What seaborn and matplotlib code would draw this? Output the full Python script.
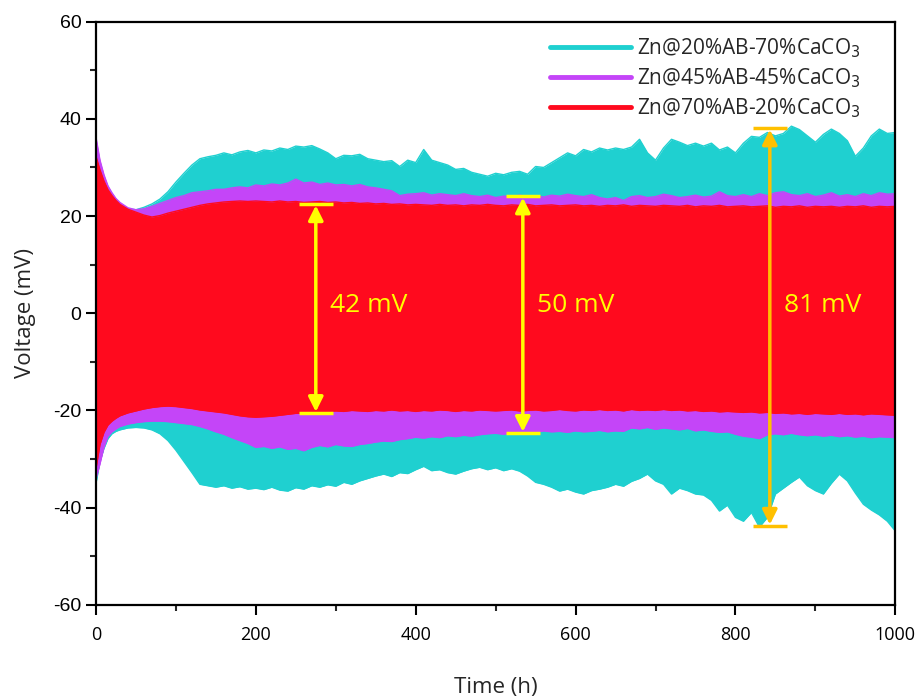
import numpy as np
import pandas as pd
import matplotlib
matplotlib.use("Agg")
import matplotlib.pyplot as plt
from matplotlib.lines import Line2D
import seaborn as sns

# ---------------- data (envelopes) ----------------
time_h = [0, 5, 10, 15, 20, 25, 30, 40, 50, 60, 70, 80, 90, 100,
          110, 120, 130, 140, 150, 160, 170, 180, 190, 200,
          210, 220, 230, 240, 250, 260, 270, 280, 290, 300,
          310, 320, 330, 340, 350, 360, 370, 380, 390, 400,
          410, 420, 430, 440, 450, 460, 470, 480, 490, 500,
          510, 520, 530, 540, 550, 560, 570, 580, 590, 600,
          610, 620, 630, 640, 650, 660, 670, 680, 690, 700,
          710, 720, 730, 740, 750, 760, 770, 780, 790, 800,
          810, 820, 830, 840, 850, 860, 870, 880, 890, 900,
          910, 920, 930, 940, 950, 960, 970, 980, 990, 1000]

cyan_upper = [35.5, 31, 28, 26, 24.5, 23.5, 22.5, 21.5, 21.3, 21.8, 22.5, 23.5, 25, 27,
              28.8, 30.5, 31.8, 32.2, 32.5, 33, 32.6, 33.2, 33.5, 33,
              33.6, 33.4, 34, 33.7, 34.4, 34.2, 34.5, 33.8, 33, 31.8,
              32.5, 32.4, 32.7, 31.8, 31.5, 31.2, 31.4, 30.2, 31.5, 31,
              33.7, 31.5, 31, 30.5, 29.6, 29.8, 29, 28.6, 28.2, 28.8,
              28.5, 29, 29.2, 28.6, 30.2, 30, 31, 32, 33, 32.4,
              33.7, 33.2, 34, 33.6, 34, 33.7, 34.2, 35.8, 33, 31.5,
              34, 35.8, 35.2, 34.5, 35, 34.4, 35, 33.6, 34.2, 33,
              35, 36.4, 36.2, 37.2, 36.5, 37, 38.5, 37.8, 36.5, 35.2,
              36.8, 37.9, 37, 35.5, 32.3, 34, 36.5, 37.9, 37, 37.2]
cyan_lower = [-35, -30.5, -27.8, -25.8, -24.8, -24.3, -24, -23.6, -23.5, -23.6, -24, -24.8, -26.2, -28.2,
              -30.5, -32.8, -35.2, -35.5, -35.8, -35.5, -36, -35.7, -36.2, -36,
              -36.3, -35.8, -36.4, -36.6, -35.9, -36.2, -35.5, -35.8, -35.3, -35.6,
              -34.8, -35.2, -34.5, -34, -33.5, -33.1, -33.6, -32.8, -33, -32.2,
              -31.5, -32.4, -32.2, -32.8, -33.1, -32.5, -32, -31.7, -32.2, -31.8,
              -32.4, -32, -32.5, -33.5, -34.8, -35.2, -35.8, -36.6, -36.2, -36.8,
              -37.2, -36.5, -36.2, -35.8, -35.2, -35.6, -34.6, -34, -33.1, -34.5,
              -35.2, -37.2, -36, -36.5, -37.2, -37.4, -38.5, -40.7, -39.5, -42,
              -42.8, -41, -44, -42, -37.2, -36, -34.8, -33.7, -35.5, -36.5,
              -37.2, -35, -33.1, -34.5, -37, -39.3, -40.5, -41.5, -42.8, -44.8]

magenta_upper = [36.2, 31.5, 28.5, 26.2, 24.8, 23.6, 22.8, 21.7, 21.3, 21.5, 22, 22.6, 23.2, 23.8,
                 24.2, 24.8, 25, 25.2, 25.5, 25.5, 25.8, 26, 25.8, 26.4,
                 26.2, 26.6, 26.4, 26.8, 27.6, 26.8, 27, 26.5, 26.8, 26.4,
                 26.5, 26.2, 26.5, 26, 25.8, 25.5, 25.2, 24.2, 24.5, 24.6,
                 24.8, 24.3, 24.6, 24.4, 24.2, 24.6, 24.2, 24, 24.3, 23.8,
                 24.1, 24, 24.3, 24, 24.2, 23.9, 24.3, 24.1, 24.5, 24.2,
                 24, 24.4, 23.8, 23.5, 23.8, 23.2, 24, 24.2, 23.8, 24,
                 24.5, 24.2, 23.8, 24, 24.3, 23.9, 24.1, 25, 24.2, 24,
                 24.4, 24, 24.6, 24.2, 24.8, 25, 24.4, 24.2, 24.6, 24,
                 24.3, 24.8, 24.1, 24.4, 24, 24.6, 24.2, 24.8, 24.5, 24.6]
magenta_lower = [-34, -31, -27.5, -25.3, -24.4, -23.8, -23.3, -22.8, -22.5, -22.3, -22.2, -22.2, -22.3, -22.5,
                 -22.7, -22.9, -23.3, -23.8, -24.4, -24.9, -25.6, -26.2, -26.8, -27.6,
                 -27.4, -27.8, -27.5, -28, -27.8, -28.3, -27.6, -27.2, -27.5, -27,
                 -27.3, -27.4, -27, -26.8, -26.5, -26.3, -26.4, -26, -25.8, -25.5,
                 -25.7, -25.4, -25.6, -25.2, -25.4, -25.1, -25.3, -25, -24.8, -24.7,
                 -24.9, -24.5, -24.6, -24.3, -24.5, -24.2, -24.4, -24.3, -24.5, -24.2,
                 -24.4, -24.3, -24.1, -24.4, -24.2, -24.3, -23.6, -23.8, -23.5, -23.9,
                 -23.6, -23.8, -24, -23.7, -24.2, -24, -24.3, -24.5, -24.4, -24.9,
                 -25.3, -25.5, -25.8, -25, -24.8, -25, -24.7, -25, -25.2, -25,
                 -25.3, -25.1, -25.4, -25.2, -25.5, -25.3, -25.6, -25.4, -25.5, -25.6]

red_upper = [32.3, 29.5, 27.2, 25.4, 24.2, 23.2, 22.4, 21.4, 20.8, 20.2, 19.8, 20.1, 20.6, 21,
             21.4, 21.8, 22.2, 22.5, 22.7, 22.9, 23, 23.1, 23, 23.1,
             23, 22.9, 23.1, 22.9, 23, 22.8, 22.9, 23, 22.8, 22.9,
             22.7, 22.8, 22.6, 22.7, 22.5, 22.6, 22.4, 22.5, 22.3, 22.4,
             22.3, 22.2, 22.4, 22.2, 22.3, 22.1, 22.3, 22.2, 22.4, 22.2,
             22.1, 22.3, 22.2, 22.4, 22.1, 22.2, 22.3, 22.1, 22.2, 22.3,
             22.1, 22.2, 22, 22.2, 22.1, 22.3, 22, 22.2, 22.1, 22,
             22.2, 22.1, 22, 22.2, 21.9, 22.1, 22, 22.2, 21.9, 22,
             22.1, 21.9, 22, 22.1, 21.8, 22, 21.9, 22.1, 21.8, 22,
             21.9, 22, 21.8, 22, 21.9, 22.1, 21.8, 22, 21.9, 22]
red_lower = [-32, -27, -24.5, -23, -22.2, -21.6, -21.1, -20.5, -20.1, -19.7, -19.4, -19.2, -19.1, -19.2,
             -19.4, -19.6, -19.9, -20.1, -20.3, -20.5, -20.8, -21.1, -21.3, -21.4,
             -21.3, -21.2, -21, -20.8, -20.6, -20.5, -20.4, -20.3, -20.2, -20.1,
             -20.2, -20, -20.1, -20.2, -20, -20.1, -19.9, -20.1, -20, -20.2,
             -20, -20.1, -19.9, -20, -20.2, -20, -20.1, -19.9, -20, -20.1,
             -20, -19.9, -20.1, -20, -19.9, -20.1, -20, -19.8, -20, -20.1,
             -19.9, -20, -19.8, -20, -19.9, -20.1, -19.8, -20, -19.9, -20,
             -19.8, -20, -19.9, -20.1, -20, -20.2, -20.1, -20.3, -20.2, -20.3,
             -20.4, -20.3, -20.5, -20.4, -20.6, -20.5, -20.7, -20.6, -20.8, -20.6,
             -20.7, -20.8, -20.6, -20.8, -20.7, -20.9, -20.7, -20.8, -20.9, -21]

series_names = ["Zn@20%AB-70%CaCO$_3$", "Zn@45%AB-45%CaCO$_3$", "Zn@70%AB-20%CaCO$_3$"]
series_colors = ["#1FD0D0", "#C445F8", "#FF0A1E"]

# annotations
annot_time = [275, 534, 843]
annot_top = [22.5, 24.1, 38.1]
annot_bottom = [-20.6, -24.7, -43.8]
annot_labels = ["42 mV", "50 mV", "81 mV"]
annot_colors = ["#FFFF00", "#FFFF00", "#FFC000"]

# ---------------- plotting ----------------
sns.set_theme(style="ticks")
plt.rcParams["font.family"] = ["DejaVu Sans"]
plt.rcParams["axes.unicode_minus"] = False

fig = plt.figure(figsize=(9.23, 7.00), dpi=100)
ax = fig.add_axes([0.104, 0.136, 0.866, 0.833])

envelopes = [(cyan_upper, cyan_lower), (magenta_upper, magenta_lower), (red_upper, red_lower)]
rows = []
for name, (up, lo) in zip(series_names, envelopes):
    for t, u, l in zip(time_h, up, lo):
        rows.append({"Time": t, "V": u, "series": name, "edge": "upper"})
        rows.append({"Time": t, "V": l, "series": name, "edge": "lower"})
df = pd.DataFrame(rows)

for name, col, (up, lo) in zip(series_names, series_colors, envelopes):
    ax.fill_between(time_h, lo, up, color=col, linewidth=0, zorder=2)
    sub = df[df["series"] == name]
    sns.lineplot(data=sub, x="Time", y="V", units="edge", estimator=None,
                 color=col, linewidth=1.0, ax=ax, legend=False, zorder=2)

for t, top, bot, lab, c in zip(annot_time, annot_top, annot_bottom, annot_labels, annot_colors):
    ax.annotate("", xy=(t, top - 0.3), xytext=(t, bot + 0.3),
                arrowprops=dict(arrowstyle="<|-|>", color=c, lw=2.5,
                                mutation_scale=22, shrinkA=0, shrinkB=0), zorder=5)
    ax.plot([t - 21, t + 21], [top, top], color=c, lw=2.5, zorder=5, solid_capstyle="butt")
    ax.plot([t - 21, t + 21], [bot, bot], color=c, lw=2.5, zorder=5, solid_capstyle="butt")
    ax.text(t + 18, 1.5, lab, color="#FFFF00", fontsize=19, ha="left", va="center",
            family=["Open Sans", "DejaVu Sans"], zorder=6)

ax.set_xlim(0, 1000)
ax.set_ylim(-60, 60)
ax.set_xticks([0, 200, 400, 600, 800, 1000])
ax.set_yticks([-60, -40, -20, 0, 20, 40, 60])
ax.set_xticks(np.arange(0, 1001, 100), minor=True)
ax.set_yticks(np.arange(-60, 61, 10), minor=True)
ax.tick_params(axis="both", which="major", direction="out", length=7, width=1.5,
               labelsize=13, colors="black")
ax.tick_params(axis="x", which="major", pad=8)
ax.tick_params(axis="both", which="minor", direction="out", length=4, width=1.5)
for lab in ax.get_xticklabels():
    lab.set_family(["Open Sans", "DejaVu Sans"])
for lab in ax.get_yticklabels():
    lab.set_family(["Liberation Sans", "DejaVu Sans"])
    lab.set_fontsize(14)
for sp in ax.spines.values():
    sp.set_visible(True)
    sp.set_linewidth(1.6)
    sp.set_color("black")

ax.set_xlabel("Time (h)", fontsize=16, family=["Open Sans", "DejaVu Sans"], labelpad=24)
ax.set_ylabel("Voltage (mV)", fontsize=16, family=["Open Sans", "DejaVu Sans"], labelpad=12)

handles = [Line2D([0], [0], color=c, lw=3.5) for c in series_colors]
leg = ax.legend(handles, series_names, loc="upper right", frameon=False,
                handlelength=3.9, handletextpad=0.3, labelspacing=0.3,
                borderaxespad=0.3, bbox_to_anchor=(0.975, 1.0),
                prop={"family": ["Open Sans", "DejaVu Sans"], "size": 15})

fig.savefig("out.png", dpi=100)
